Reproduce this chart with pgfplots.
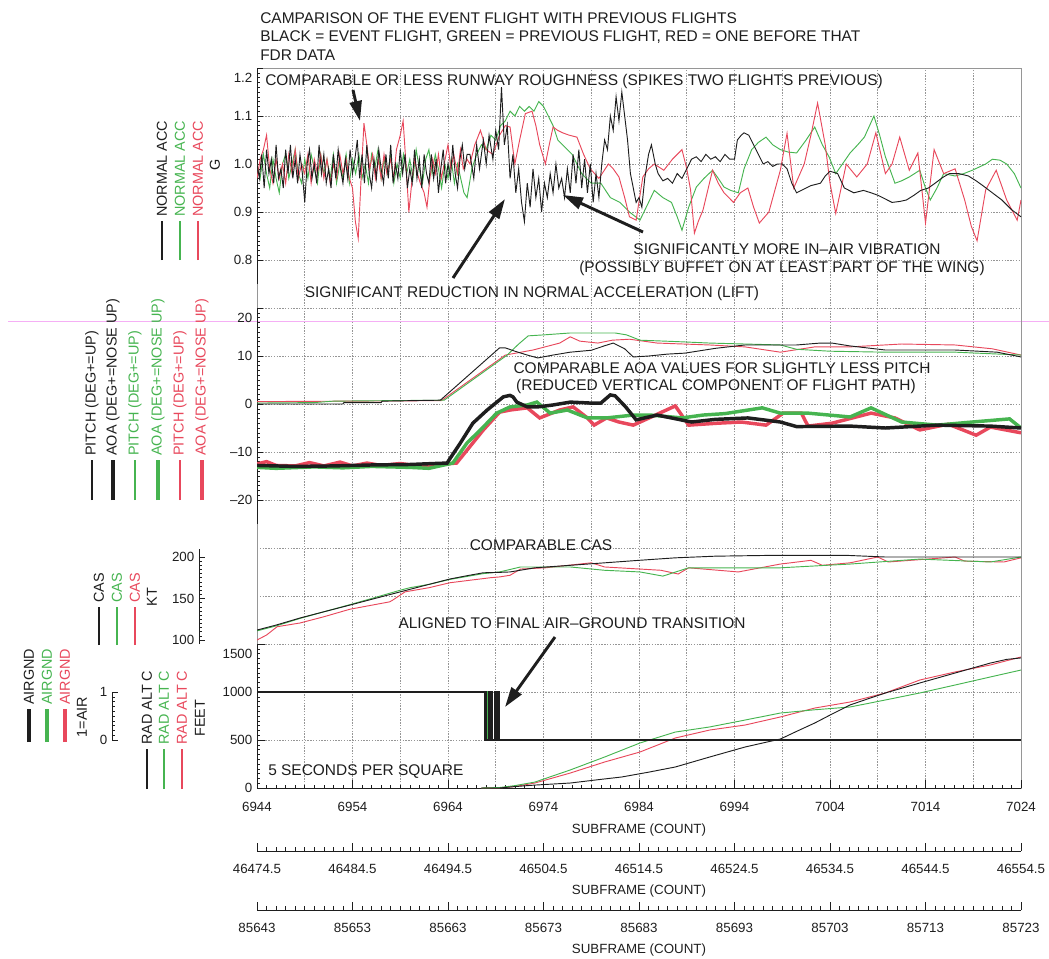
\documentclass[border=0pt]{standalone}
\usepackage{fontspec}
\setmainfont{Liberation Sans}
\usepackage{pgfplots}
\pgfplotsset{compat=1.18}
\usetikzlibrary{arrows.meta}
\definecolor{cblk}{RGB}{30,30,30}
\definecolor{cgrn}{RGB}{70,180,80}
\definecolor{cred}{RGB}{232,72,92}
\definecolor{cgrid}{RGB}{150,150,150}
\newcommand\tickfont{\fontsize{10}{12}\selectfont}
\newcommand\anfont{\fontsize{11.6}{13}\selectfont}
\newcommand\legfont{\fontsize{10.8}{12}\selectfont}
\newcommand\lowlab[1]{\raisebox{-11pt}[0pt][0pt]{#1}}
\pgfplotsset{
  base/.style={scale only axis, width=573pt, /pgf/number format/assume math mode=true,
    scaled x ticks=false, scaled y ticks=false,
    tick label style={font=\tickfont, text=cblk}, label style={font=\tickfont, text=cblk},
    tick align=inside, major tick length=4.5pt, minor tick length=2.2pt,
    every tick/.append style={cblk, line width=0.45pt},
    every minor tick/.append style={cblk, line width=0.4pt}},
  panel/.style={base, at={(192.75pt,#1)}, anchor=south west, xmin=6944, xmax=7024,
    hide x axis, axis y line*=left, y axis line style={cblk, line width=0.6pt}},
  secx/.style={base, at={(192.75pt,#1)}, anchor=south west, height=10pt, ymin=0, ymax=1,
    axis x line*=bottom, axis y line=none, x axis line style={cblk, line width=0.6pt},
    minor x tick num=9, major tick length=6pt, minor tick length=3pt,
    xticklabel style={yshift=-6pt}, xlabel={SUBFRAME (COUNT)}, xlabel style={yshift=-2pt}},
}
\begin{document}
\begin{tikzpicture}
\path[use as bounding box] (0,0) rectangle (786.75pt,-718.5pt);
\draw[color={rgb,255:red,245;green,175;blue,245}, line width=0.5pt] (6pt,-240.75pt) -- (786.75pt,-240.75pt);

% ---------------- grid ----------------
\begin{axis}[scale only axis, width=573pt, at={(192.75pt,-591pt)}, anchor=south west, height=540pt,
  xmin=6944, xmax=7024, ymin=0, ymax=15,
  xtick={6944,6949,...,7024}, ytick={0,1,...,15},
  xticklabel=\empty, yticklabel=\empty,
  tick style={draw=none}, grid=major,
  grid style={color=cgrid, line width=0.6pt, dash pattern=on 1pt off 1.1pt},
  axis line style={color=cgrid, line width=0.7pt}]
\addplot[draw=none] coordinates {(6950,5)};
\end{axis}

% ---------------- NORMAL ACC ----------------
\begin{axis}[panel=-213pt, height=162pt, ymin=0.75, ymax=1.2,
  ytick={0.8,0.9,1.0,1.1,1.2}, yticklabels={0.8,0.9,1.0,1.1,\lowlab{1.2}}, minor y tick num=9]
\addplot[cgrn, line width=0.7pt] coordinates {
(6944.00,1.00)(6944.33,0.97)(6944.67,1.02)(6945.00,0.98)(6945.33,0.95)(6945.67,1.01)(6946.00,0.97)(6946.33,0.94)
(6946.67,1.00)(6947.00,1.02)(6947.33,0.97)(6947.67,1.00)(6948.00,1.03)(6948.33,0.98)(6948.67,0.96)(6949.00,1.01)
(6949.33,0.97)(6949.67,1.02)(6950.00,0.99)(6950.33,0.96)(6950.67,1.02)(6951.00,0.98)(6951.33,1.01)(6951.67,0.97)
(6952.00,1.02)(6952.33,0.96)(6952.67,1.00)(6953.00,0.97)(6953.33,1.02)(6953.67,0.96)(6954.00,1.01)(6954.33,0.98)
(6954.67,1.02)(6955.00,0.97)(6955.33,1.00)(6955.67,0.96)(6956.00,1.02)(6956.33,0.99)(6956.67,1.03)(6957.00,0.97)
(6957.33,1.01)(6957.67,0.98)(6958.00,1.02)(6958.33,0.96)(6958.67,1.00)(6959.00,0.97)(6959.33,1.02)(6959.67,0.98)
(6960.00,1.01)(6960.33,0.97)(6960.67,1.03)(6961.00,0.99)(6961.33,0.96)(6961.67,1.01)(6962.00,1.03)(6962.33,0.98)
(6962.67,1.02)(6963.00,0.99)(6963.33,0.95)(6963.67,1.00)(6964.00,0.97)(6964.33,1.01)(6964.67,0.96)(6965.00,1.00)
(6965.33,0.97)(6965.67,0.94)(6966.00,0.93)(6966.5,0.99)(6967.0,1.02)(6967.5,1.04)
(6968.0,1.03)(6968.5,1.06)(6969.0,1.05)(6969.5,1.08)(6970.0,1.09)(6970.5,1.11)(6971.0,1.10)(6971.5,1.12)
(6972.0,1.11)(6972.5,1.12)(6973.0,1.11)(6973.5,1.13)(6974.0,1.12)(6974.5,1.10)(6975.0,1.08)(6975.5,1.05)
(6976.0,1.04)(6977.0,1.02)(6978.0,0.98)(6979.0,0.96)(6980.0,0.96)(6981.0,0.93)(6982.0,0.92)(6983.0,0.90)
(6984.1,0.883)(6985.0,0.92)(6985.6,0.945)(6986.5,0.93)(6987.4,0.92)(6988.0,0.89)(6988.5,0.862)(6989.2,0.91)
(6990.0,0.952)(6990.8,0.97)(6991.7,0.987)(6992.3,0.97)(6992.9,0.952)(6993.6,0.945)(6994.4,0.94)(6995.0,0.99)
(6995.8,1.03)(6996.5,1.045)(6997.3,1.056)(6998.0,1.04)(6998.8,1.03)(6999.6,1.025)(7000.5,1.023)(7001.5,1.05)
(7002.4,1.077)(7003.2,1.04)(7003.9,1.015)(7004.6,0.98)(7005.3,1.00)(7006.1,1.023)(7006.9,1.04)(7007.6,1.056)
(7008.6,1.10)(7009.2,1.06)(7009.8,1.015)(7010.8,0.96)(7011.5,0.965)(7012.3,0.973)(7013.4,0.987)(7014.0,0.95)
(7014.5,0.925)(7015.2,0.95)(7015.9,0.98)(7017.1,0.975)(7018.0,0.98)(7018.9,0.987)(7020.3,1.00)(7021.0,1.01)
(7021.8,1.008)(7022.5,1.00)(7023.3,0.98)(7024.0,0.95)};
\addplot[cred, line width=0.7pt] coordinates {
(6944.00,0.97)(6944.33,1.01)(6944.67,1.03)(6945.00,1.06)(6945.33,0.99)(6945.67,0.96)(6946.00,1.01)(6946.33,0.97)
(6946.67,1.00)(6947.00,0.96)(6947.33,1.02)(6947.67,0.98)(6948.00,1.03)(6948.33,0.97)(6948.67,1.00)(6949.00,0.98)
(6949.33,1.02)(6949.67,0.96)(6950.00,1.01)(6950.33,0.98)(6950.67,1.02)(6951.00,0.97)(6951.33,1.01)(6951.67,0.96)
(6952.00,1.00)(6952.33,0.97)(6952.67,1.02)(6953.00,0.98)(6953.33,1.01)(6953.67,0.97)(6954.00,0.95)(6954.3,0.88)
(6954.6,0.845)(6954.9,0.97)(6955.2,1.085)(6955.5,1.04)(6955.8,0.99)(6956.1,1.02)(6956.4,0.97)(6956.7,1.01)
(6957.0,0.97)(6957.3,1.02)(6957.6,0.98)(6958.0,1.01)(6958.3,0.97)(6958.6,1.03)(6959.0,1.06)(6959.3,1.09)
(6959.6,1.00)(6959.9,0.90)(6960.2,0.96)(6960.5,1.01)(6960.8,0.98)(6961.1,0.96)(6961.5,0.94)(6961.8,0.91)
(6962.1,0.97)(6962.4,1.01)(6962.7,0.98)(6963.0,1.02)(6963.3,0.97)(6963.6,1.00)(6964.0,1.04)(6964.3,0.99)
(6964.6,1.02)(6965.0,0.98)(6965.3,1.03)(6965.6,0.99)(6966.0,1.01)
(6966.3,1.00)(6966.8,1.04)(6967.4,1.07)(6968.0,1.03)(6968.7,1.02)(6969.4,1.06)(6970.0,1.08)(6970.5,1.077)
(6971.0,1.00)(6971.5,1.05)(6972.1,1.105)(6972.8,1.11)(6973.2,1.08)(6973.6,1.04)(6974.2,1.00)(6974.6,1.04)
(6975.0,1.077)(6975.5,1.07)(6976.0,1.065)(6976.7,1.06)(6977.5,1.056)(6978.2,1.02)(6978.9,0.99)(6979.8,0.97)
(6980.8,1.00)(6981.3,0.99)(6981.9,0.973)(6982.5,0.93)(6983.0,0.89)(6983.7,0.883)(6984.4,0.973)(6985.0,0.99)
(6985.6,1.00)(6986.6,0.987)(6987.5,1.01)(6988.5,1.03)(6989.0,0.99)(6989.4,0.946)(6989.8,0.856)(6990.2,0.88)
(6990.7,0.904)(6991.7,0.987)(6992.3,0.96)(6992.9,0.94)(6993.9,0.92)(6994.6,0.94)(6995.4,0.95)(6996.0,0.91)
(6996.6,0.877)(6997.6,0.90)(6998.8,0.987)(6999.5,1.064)(7000.2,0.95)(7001.3,1.00)(7002.0,1.06)(7002.7,1.127)
(7003.5,1.04)(7004.0,0.96)(7004.6,0.897)(7005.7,1.00)(7006.8,0.973)(7007.9,1.00)(7008.8,1.065)(7009.8,0.98)
(7010.5,1.00)(7011.3,1.056)(7012.3,0.987)(7013.2,1.023)(7014.0,0.877)(7014.9,1.03)(7015.9,0.98)(7017.1,0.99)
(7018.1,0.925)(7018.8,0.87)(7019.4,0.84)(7020.3,0.946)(7021.4,0.987)(7022.5,0.925)(7023.6,0.883)(7024.0,0.925)};
\addplot[cblk, line width=0.7pt] coordinates {
(6944.00,1.00)(6944.25,0.97)(6944.50,1.02)(6944.75,0.95)(6945.00,1.03)(6945.25,0.98)(6945.50,1.01)(6945.75,0.96)
(6946.00,1.04)(6946.25,0.97)(6946.50,0.99)(6946.75,0.95)(6947.00,1.03)(6947.25,0.98)(6947.50,1.04)(6947.75,0.97)
(6948.00,1.01)(6948.25,0.96)(6948.50,1.02)(6948.75,0.98)(6949.00,0.92)(6949.25,1.00)(6949.50,1.03)(6949.75,0.97)
(6950.00,1.00)(6950.25,0.96)(6950.50,1.04)(6950.75,0.98)(6951.00,1.02)(6951.25,0.96)(6951.50,0.99)(6951.75,0.95)
(6952.00,1.02)(6952.25,0.97)(6952.50,1.03)(6952.75,0.99)(6953.00,0.96)(6953.25,1.01)(6953.50,0.97)(6953.75,1.03)
(6954.00,0.98)(6954.25,1.01)(6954.50,1.05)(6954.75,0.97)(6955.00,1.02)(6955.25,0.96)(6955.50,1.04)(6955.75,0.98)
(6956.00,0.95)(6956.25,1.01)(6956.50,0.97)(6956.75,1.03)(6957.00,0.99)(6957.25,0.96)(6957.50,1.02)(6957.75,0.97)
(6958.00,1.04)(6958.25,0.96)(6958.50,1.00)(6958.75,0.97)(6959.00,1.03)(6959.25,0.98)(6959.50,1.02)(6959.75,0.95)
(6960.00,0.99)(6960.25,0.96)(6960.50,1.03)(6960.75,0.97)(6961.00,1.01)(6961.25,0.95)(6961.50,1.02)(6961.75,0.98)
(6962.00,0.96)(6962.25,1.02)(6962.50,0.97)(6962.75,1.01)(6963.00,0.94)(6963.25,0.99)(6963.50,1.03)(6963.75,0.96)
(6964.00,1.00)(6964.25,0.97)(6964.50,1.04)(6964.75,0.98)(6965.00,0.95)(6965.25,1.01)(6965.50,1.04)(6965.75,0.99)
(6966.00,1.02)
(6966.3,1.02)(6966.7,0.97)(6967.0,1.04)(6967.3,0.99)(6967.7,1.05)(6968.0,1.00)(6968.3,1.06)(6968.7,1.01)
(6969.0,1.07)(6969.3,1.03)(6969.6,1.16)(6969.9,1.04)(6970.2,1.08)(6970.5,0.97)(6970.8,1.02)(6971.1,0.94)
(6971.4,0.99)(6971.7,0.92)(6972.0,0.88)(6972.3,0.96)(6972.6,0.91)(6972.9,0.99)(6973.2,0.93)(6973.5,0.97)
(6973.8,0.90)(6974.1,0.96)(6974.4,0.93)(6974.7,0.98)(6975.0,0.94)(6975.3,1.00)(6975.6,0.95)(6975.9,0.97)
(6976.2,0.93)(6976.5,0.99)(6976.8,0.94)(6977.1,1.02)(6977.4,0.96)(6977.7,1.03)(6978.0,0.95)(6978.3,1.01)
(6978.6,0.94)(6978.9,1.00)(6979.2,0.92)(6979.5,0.98)(6979.8,0.93)(6980.1,1.00)(6980.4,1.05)(6980.7,1.03)
(6981.0,1.10)(6981.3,1.07)(6981.6,1.14)(6981.9,1.09)(6982.2,1.15)(6982.5,1.10)(6982.8,1.05)(6983.1,0.98)
(6983.4,0.95)(6983.7,0.92)(6984.0,0.93)(6984.3,0.91)(6984.6,0.97)(6985.0,1.02)(6985.3,1.04)(6985.7,1.00)
(6986.0,0.98)(6986.5,0.965)(6987.0,0.97)(6987.5,0.96)(6988.0,0.98)(6988.5,0.97)(6989.0,0.99)(6989.5,1.01)
(6990.0,1.015)(6990.5,1.005)(6991.0,1.02)(6991.5,1.01)(6992.0,1.015)(6992.5,1.005)(6993.0,1.02)(6993.5,1.01)
(6994.0,1.01)(6994.3,1.05)(6994.7,1.06)(6995.0,1.065)(6995.5,1.06)(6996.0,1.04)(6996.5,1.02)(6997.0,1.00)
(6997.5,1.005)(6998.0,0.995)(6998.5,1.00)(6999.0,1.00)(6999.5,0.99)(7000.0,0.96)(7000.5,0.94)(7001.0,0.945)
(7002.0,0.955)(7003.0,0.96)(7003.5,0.975)(7004.0,0.985)(7004.8,0.98)(7005.5,0.95)(7006.5,0.94)(7007.5,0.945)
(7008.3,0.94)(7009.0,0.935)(7010.0,0.925)(7010.5,0.92)(7011.3,0.922)(7012.0,0.925)(7012.8,0.935)(7013.5,0.945)
(7014.3,0.95)(7015.0,0.96)(7015.8,0.972)(7016.5,0.98)(7017.5,0.98)(7018.5,0.975)(7019.3,0.965)(7020.0,0.955)
(7021.0,0.94)(7022.0,0.925)(7023.0,0.905)(7024.0,0.89)};
\end{axis}

% ---------------- PITCH / AOA ----------------
\begin{axis}[panel=-393pt, height=162pt, ymin=-25, ymax=20,
  ytick={-20,-10,0,10,20}, yticklabels={--20,--10,0,10,\lowlab{20}}, minor y tick num=9]
\addplot[cred, line width=2.6pt] coordinates {
(6944,-12.5)(6945,-12.0)(6946,-12.8)(6948,-12.9)(6949.5,-12.2)(6951,-12.9)(6952.7,-12.1)(6954,-12.9)
(6955.5,-12.3)(6957,-12.8)(6959,-12.4)(6961,-12.9)(6963,-12.6)(6964.9,-12.3)(6967.7,-5.4)(6969.4,-1.7)
(6970.5,-1.25)(6972.3,-0.8)(6973.6,-2.9)(6975.7,-1.25)(6977.1,-0.6)(6978.6,-2.9)(6979.3,-4.4)(6980.6,-2.9)
(6981.9,-3.75)(6983.4,-4.4)(6985.5,-2.5)(6987.8,-0.4)(6989.2,-4.4)(6992.2,-4.0)(6994.7,-3.75)(6997.3,-4.4)
(6999.1,-1.9)(7001.0,-1.9)(7001.7,-4.6)(7004.2,-4.0)(7008.3,-1.9)(7010.8,-2.9)(7013.4,-5.4)(7016.4,-4.2)
(7019.3,-6.5)(7020.8,-4.8)(7024,-6.0)};
\addplot[cgrn, line width=2.6pt] coordinates {
(6944,-13.2)(6946,-13.4)(6950,-13.1)(6953,-13.3)(6956,-13.0)(6960,-13.2)(6962,-13.4)(6964.5,-12.3)
(6966,-8.1)(6967.4,-5.4)(6969.1,-1.9)(6970.5,-0.6)(6972.3,-0.2)(6973.3,0.4)(6974.7,-1.9)(6976.5,-1.25)
(6978.6,-2.9)(6980.6,-2.9)(6983.4,-2.3)(6985.2,-2.3)(6988.5,-2.9)(6990.7,-2.3)(6993,-2.0)(6996.9,-0.8)
(6998.8,-1.9)(7001.7,-1.9)(7006.1,-2.7)(7008.3,-0.8)(7011.5,-3.75)(7015.2,-4.4)(7018.9,-3.75)(7022.8,-3.1)(7024,-5.0)};
\addplot[cblk, line width=2.6pt] coordinates {
(6944,-12.8)(6948,-13.0)(6952,-12.9)(6956,-12.7)(6960,-12.6)(6962.5,-12.4)(6963.9,-12.3)(6965.3,-8.1)
(6966.6,-4.0)(6968.1,-1.25)(6969.8,1.5)(6970.5,1.8)(6970.8,1.5)(6971.2,0.4)(6972.3,-0.6)(6973.4,-0.6)
(6975.0,-0.2)(6976.8,0.4)(6978.9,0.2)(6980.0,0.2)(6981.0,1.9)(6981.5,1.7)(6982.6,-0.6)(6983.7,-3.3)
(6985.9,-2.3)(6989.5,-3.75)(6992,-3.2)(6995.4,-2.9)(6998.8,-3.75)(7000.5,-4.7)(7006.1,-4.6)(7009.8,-5.0)
(7015.2,-4.4)(7020.8,-4.6)(7024,-5.0)};
\addplot[cred, line width=0.7pt] coordinates {
(6944,0.5)(6963.3,0.7)(6970.0,10.2)(6972.9,11.25)(6975.7,12.7)(6976.8,14.0)(6977.8,13.1)(6979.7,12.7)
(6981.2,13.3)(6983,13.5)(6985.9,12.7)(6991.4,12.3)(6995.1,11.9)(6998.8,10.8)(7002.4,11.9)(7006.1,11.9)
(7011.5,12.5)(7017.1,12.3)(7021,11.5)(7024,10.2)};
\addplot[cgrn, line width=0.7pt] coordinates {
(6944,0.2)(6950,0.3)(6952,0.6)(6963.6,0.8)(6970.2,10.2)(6971.4,12.5)(6972.4,14.2)(6974,14.4)
(6976.8,14.8)(6981.5,14.8)(6982.7,14.4)(6984.1,13.3)(6988,13.0)(6991.4,12.7)(6998.8,12.3)(7000.5,11.4)
(7004,11.0)(7009.8,10.8)(7017.1,10.8)(7024,10.2)};
\addplot[cblk, line width=0.7pt] coordinates {
(6944,0)(6953,0)(6953.1,0.3)(6957,0.3)(6957.1,0.6)(6963.2,0.8)(6969.4,11.7)(6970.0,11.7)
(6971,11.0)(6972.3,10.2)(6973.4,9.6)(6975,10.2)(6976.8,10.8)(6979,11.2)(6980.5,12.2)(6981.3,12.7)
(6982.5,11.5)(6983.4,9.8)(6985,10.0)(6987,10.4)(6988.8,10.6)(6992,11.6)(6995.1,12.3)(7000.5,12.3)
(7003,12.7)(7004.2,12.7)(7006.1,12.1)(7009.8,11.25)(7017.1,11.25)(7021.5,10.8)(7024,9.8)};
\end{axis}

% ---------------- CAS ----------------
\begin{axis}[base, at={(192.75pt,-483.11pt)}, anchor=south west, height=71.59pt,
  xmin=6944, xmax=7024, ymin=95, ymax=210, hide axis]
\addplot[cred, line width=0.7pt] coordinates {
(6944,100)(6945,106)(6946.1,116)(6948.5,120.5)(6951,128)(6953.7,137)(6957.9,146)(6958.2,148)
(6959.5,158)(6962,163)(6964.2,169)(6968.4,175)(6969.4,176)(6970.5,178)(6971.6,185.5)(6974.2,187)
(6979.0,193)(6980.4,188)(6986.3,184)(6988.1,179.5)(6989.2,187)(6994.4,182)(6998.8,191.5)(7002.0,196)
(7003.2,190)(7006.1,193)(7009.0,200)(7010.1,194)(7017.1,200)(7018.1,195)(7022.2,194)(7024,199)};
\addplot[cgrn, line width=0.7pt] coordinates {
(6944,111)(6946,117)(6948.5,126)(6951,134)(6953.7,142.5)(6956,150)(6959,160)(6960,163)
(6962,167)(6964.2,173)(6967.7,180)(6969.4,182)(6971.6,188)(6976.8,188)(6980.4,184)(6984.1,182)
(6986.5,177)(6989.2,187)(6995.1,187)(6998.8,187)(7006.1,191.5)(7013.4,197.5)(7020.8,194)(7024,200)};
\addplot[cblk, line width=0.7pt] coordinates {
(6944,112)(6946,118)(6948.5,126.5)(6951,134)(6953.7,142)(6956,149)(6959,158)(6962,167)
(6964.2,173.5)(6966,177.5)(6967.7,181)(6969.4,181.5)(6970.5,182)(6973.1,187)(6976.8,190)(6980.4,193)
(6984,196)(6987.8,199)(6992,201)(6998,202)(7005.7,202)(7009.8,200)(7024,200)};
\end{axis}
\begin{axis}[base, at={(149.25pt,-483.11pt)}, anchor=south west, height=71.59pt, width=2pt,
  xmin=0, xmax=1, ymin=95, ymax=210, hide x axis, axis y line*=left,
  y axis line style={cblk, line width=0.6pt},
  ytick={100,150,200}, yticklabels={100,150,200}, minor y tick num=9]
\addplot[draw=none] coordinates {(0,100)};
\end{axis}

% ---------------- RAD ALT ----------------
\begin{axis}[base, at={(192.75pt,-591pt)}, anchor=south west, height=108pt,
  xmin=6944, xmax=7024, ymin=0, ymax=1500,
  axis x line*=bottom, axis y line*=left, axis line style={cblk, line width=0.6pt},
  ytick={0,500,1000,1500}, yticklabels={0,500,1000,\lowlab{1500}}, minor y tick num=9,
  xtick={6944,6954,...,7024}, xticklabels={6944,6954,6964,6974,6984,6994,7004,7014,7024},
  minor x tick num=9, major tick length=6pt, xticklabel style={yshift=-7pt},
  xlabel={SUBFRAME (COUNT)}, xlabel style={yshift=-2.5pt}]
\addplot[cred, line width=0.7pt] coordinates {
(6967.5,0)(6969.4,2)(6971,15)(6973.1,52)(6976.8,156)(6980.4,271)(6984.1,375)(6987.8,521)
(6991.4,604)(6995.1,656)(6998.8,740)(7002.4,833)(7006.1,896)(7009.8,990)(7013.4,1125)(7017.1,1209)
(7020.8,1282)(7024,1365)};
\addplot[cgrn, line width=0.7pt] coordinates {
(6967.5,0)(6969.4,5)(6971,25)(6973.1,62)(6976.8,188)(6980.4,323)(6984.1,469)(6987.8,583)
(6991.4,636)(6995.1,708)(6998.8,781)(7002.4,815)(7006.1,844)(7009.8,917)(7013.4,990)(7017.1,1073)
(7020.8,1157)(7024,1229)};
\addplot[cblk, line width=0.7pt] coordinates {
(6967.5,0)(6969.4,0)(6971,15)(6973,30)(6976.8,52)(6980,90)(6982.2,115)(6985,165)
(6987.8,219)(6991.4,323)(6995.1,427)(6997,470)(6998.8,510)(7000.5,590)(7002.4,677)(7004.2,770)
(7006.1,865)(7008,930)(7009.8,990)(7013.4,1094)(7017.1,1198)(7020.8,1302)(7022.5,1340)(7024,1355)};
\end{axis}

% ---------------- AIRGND ----------------
\begin{axis}[base, at={(192.75pt,-591pt)}, anchor=south west, height=108pt,
  xmin=6944, xmax=7024, ymin=-1, ymax=2, hide axis]
\addplot[cred, line width=2.2pt] coordinates {
(6944,1)(6967.9,1)(6967.9,0)(6968.3,0)(6968.3,1)(6968.6,1)(6968.6,0)(6969.0,0)(6969.0,1)(6969.3,1)(6969.3,0)(7024,0)};
\addplot[cgrn, line width=2.2pt] coordinates {
(6944,1)(6968.1,1)(6968.1,0)(6969.15,0)(6969.15,1)(6969.2,1)(6969.2,0)(7024,0)};
\addplot[cblk, line width=2.2pt] coordinates {
(6944,1)(6967.9,1)(6967.9,0)(6968.3,0)(6968.3,1)(6968.6,1)(6968.6,0)(6969.0,0)(6969.0,1)(6969.3,1)(6969.3,0)(7024,0)};
\end{axis}
\begin{axis}[base, at={(84pt,-555pt)}, anchor=south west, height=36pt, width=2pt,
  xmin=0, xmax=1, ymin=0, ymax=1, hide x axis, axis y line*=left,
  y axis line style={cblk, line width=0.6pt},
  ytick={0,1}, yticklabels={0,1}, minor y tick num=9]
\addplot[draw=none] coordinates {(0,0)};
\end{axis}

% ---------------- secondary x axes ----------------
\begin{axis}[secx=-638.25pt, xmin=46474.5, xmax=46554.5,
  xtick={46474.5,46484.5,46494.5,46504.5,46514.5,46524.5,46534.5,46544.5,46554.5},
  xticklabels={46474.5,46484.5,46494.5,46504.5,46514.5,46524.5,46534.5,46544.5,46554.5}]
\addplot[draw=none] coordinates {(46480,0.5)};
\end{axis}
\begin{axis}[secx=-682.5pt, xmin=85643, xmax=85723,
  xtick={85643,85653,85663,85673,85683,85693,85703,85713,85723},
  xticklabels={85643,85653,85663,85673,85683,85693,85703,85713,85723}]
\addplot[draw=none] coordinates {(85650,0.5)};
\end{axis}

% ---------------- annotations & labels ----------------
\begin{scope}[x=0.75pt, y=-0.75pt, every node/.style={inner sep=0pt, font=\anfont, text=cblk}]
\node[anchor=west] at (260,18) {CAMPARISON OF THE EVENT FLIGHT WITH PREVIOUS FLIGHTS};
\node[anchor=west] at (260,37) {BLACK = EVENT FLIGHT, GREEN = PREVIOUS FLIGHT, RED = ONE BEFORE THAT};
\node[anchor=west] at (260,55) {FDR DATA};
\node[anchor=west] at (265,81) {COMPARABLE OR LESS RUNWAY ROUGHNESS (SPIKES TWO FLIGHTS PREVIOUS)};
\node at (787,249) {SIGNIFICANTLY MORE IN--AIR VIBRATION};
\node at (782,268) {(POSSIBLY BUFFET ON AT LEAST PART OF THE WING)};
\node at (532,293) {SIGNIFICANT REDUCTION IN NORMAL ACCELERATION (LIFT)};
\node at (722,368) {COMPARABLE AOA VALUES FOR SLIGHTLY LESS PITCH};
\node at (716,386) {(REDUCED VERTICAL COMPONENT OF FLIGHT PATH)};
\node at (541,545) {COMPARABLE CAS};
\node at (572,623) {ALIGNED TO FINAL AIR--GROUND TRANSITION};
\node[anchor=west] at (268,772) {5 SECONDS PER SQUARE};
\tikzset{ann/.style={cblk, line width=2.2pt, -{Triangle[length=15pt,width=9pt]}}}
\draw[ann] (353,90) -- (360,121);
\draw[ann] (453,278) -- (505,199);
\draw[ann] (643,232) -- (563,195);
\draw[ann] (555,637) -- (505,707);
\tikzset{every node/.style={inner sep=0pt, font=\legfont, text=cblk}}
% legend columns: normal acc
\foreach \xx/\cc in {162/cblk,180/cgrn,198/cred}{
  \draw[\cc, line width=0.8pt] (\xx,260) -- (\xx,221);
  \node[rotate=90, anchor=west, text=\cc] at (\xx,217) {NORMAL ACC};}
\node[rotate=90] at (215,165) {G};
% pitch / aoa
\foreach \xx/\cc/\ww/\tt in {92/cblk/0.8pt/{PITCH (DEG+=UP)},113/cblk/2.6pt/{AOA (DEG+=NOSE UP)},
   135/cgrn/0.8pt/{PITCH (DEG+=UP)},158/cgrn/2.6pt/{AOA (DEG+=NOSE UP)},
   180/cred/0.8pt/{PITCH (DEG+=UP)},202/cred/2.6pt/{AOA (DEG+=NOSE UP)}}{
  \draw[\cc, line width=\ww] (\xx,500) -- (\xx,460);
  \node[rotate=90, anchor=west, text=\cc] at (\xx,456) {\tt};}
% cas
\foreach \xx/\cc in {99/cblk,117/cgrn,135/cred}{
  \draw[\cc, line width=0.8pt] (\xx,645) -- (\xx,607);
  \node[rotate=90, anchor=west, text=\cc] at (\xx,603) {CAS};}
\node[rotate=90] at (152,597) {KT};
% airgnd
\foreach \xx/\cc in {29/cblk,47/cgrn,65/cred}{
  \draw[\cc, line width=2.6pt] (\xx,742) -- (\xx,709);
  \node[rotate=90, anchor=west, text=\cc] at (\xx,705) {AIRGND};}
\node[rotate=90] at (82,717) {1=AIR};
% rad alt
\foreach \xx/\cc in {147/cblk,164/cgrn,182/cred}{
  \draw[\cc, line width=0.8pt] (\xx,789) -- (\xx,749);
  \node[rotate=90, anchor=west, text=\cc] at (\xx,745) {RAD ALT C};}
\node[rotate=90] at (200,718) {FEET};
\end{scope}
\end{tikzpicture}
\end{document}
